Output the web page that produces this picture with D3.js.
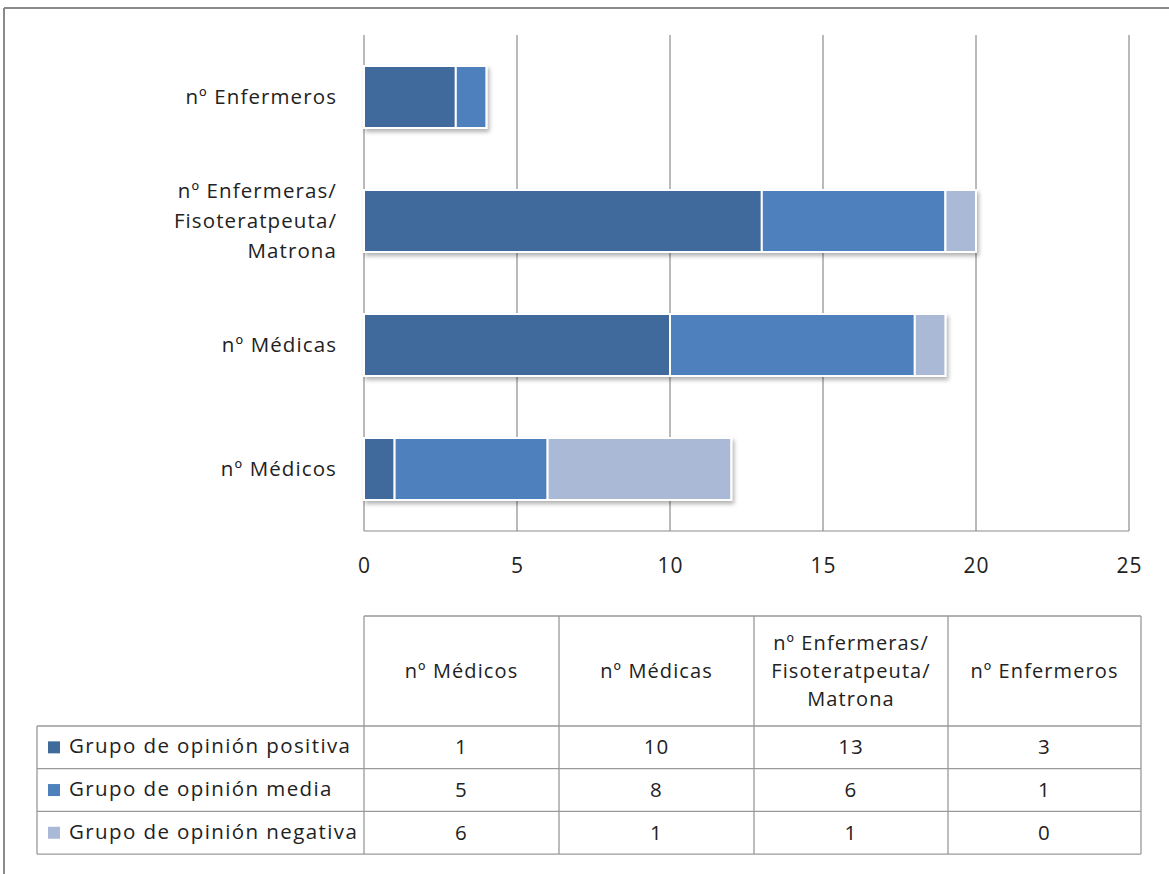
<!DOCTYPE html>
<html><head><meta charset="utf-8">
<script src="https://cdn.jsdelivr.net/npm/d3@7"></script>
<style>body{margin:0;background:#fff;} text{font-family:"Open Sans","Noto Sans",sans-serif;fill:#222;letter-spacing:1.1px;}</style>
</head><body>
<svg id="c" width="1169" height="874"></svg>
<script>
const categories = ["nº Médicos","nº Médicas","nº Enfermeras/ Fisoteratpeuta/ Matrona","nº Enfermeros"];
const catLines = [["nº Médicos"],["nº Médicas"],["nº Enfermeras/","Fisoteratpeuta/","Matrona"],["nº Enfermeros"]];
const seriesNames = ["Grupo de opinión positiva","Grupo de opinión media","Grupo de opinión negativa"];
const positiva = [1,10,13,3];
const media = [5,8,6,1];
const negativa = [6,1,1,0];
const colors = ["#3F6A9C","#4E80BC","#AAB9D6"];
const xTicks = [0,5,10,15,20,25];

(function(){
const svg = d3.select("#c");
const defs = svg.append("defs");
const f = defs.append("filter").attr("id","sh").attr("x","-10%").attr("y","-20%").attr("width","130%").attr("height","160%");
f.append("feDropShadow").attr("dx",2).attr("dy",3).attr("stdDeviation",2).attr("flood-color","#000").attr("flood-opacity",0.3);

svg.append("line").attr("x1",4).attr("x2",1169).attr("y1",8).attr("y2",8).attr("stroke","#8a8a8a").attr("stroke-width",2);
svg.append("line").attr("x1",4).attr("x2",4).attr("y1",8).attr("y2",874).attr("stroke","#8a8a8a").attr("stroke-width",2);

const pL=364,pR=1129,pT=35,pB=531;
const x = d3.scaleLinear().domain([0,25]).range([pL,pR]);
const order = [3,2,1,0];
const y = d3.scaleBand().domain(order.map(i=>categories[i])).range([pT,pB]).paddingInner(0.5).paddingOuter(0.25);

svg.append("g").selectAll("line").data(xTicks.slice(1)).join("line")
  .attr("x1",d=>x(d)).attr("x2",d=>x(d)).attr("y1",pT).attr("y2",pB)
  .attr("stroke","#8c8c8c").attr("stroke-width",1.2);
svg.append("line").attr("x1",pL).attr("x2",pR).attr("y1",pB).attr("y2",pB).attr("stroke","#8c8c8c").attr("stroke-width",1.2);
svg.append("line").attr("x1",pL).attr("x2",pL).attr("y1",pT).attr("y2",pB).attr("stroke","#8c8c8c").attr("stroke-width",1.2);

const xAxis = svg.append("g").attr("transform",`translate(0,${pB})`).call(d3.axisBottom(x).tickValues(xTicks).tickSize(0).tickPadding(27));
xAxis.select(".domain").remove();
xAxis.selectAll("text").style("font-size","21px").style("font-family","'Open Sans','Noto Sans',sans-serif").attr("fill","#222");

const data = categories.map((c,i)=>({cat:c,positiva:positiva[i],media:media[i],negativa:negativa[i]}));
const stack = d3.stack().keys(["positiva","media","negativa"])(data);
const gb = svg.append("g").attr("filter","url(#sh)");
stack.forEach((s,si)=>{
  gb.selectAll(null).data(s.filter(d=>d[1]-d[0]>0)).join("rect")
    .attr("x",d=>x(d[0])).attr("width",d=>x(d[1])-x(d[0]))
    .attr("y",d=>y(d.data.cat)).attr("height",y.bandwidth())
    .attr("fill",colors[si]).attr("stroke","#fff").attr("stroke-width",2);
});

categories.forEach((c,i)=>{
  const lines = catLines[i];
  const cy = y(c)+y.bandwidth()/2;
  const lh = 30;
  const t = svg.append("text").attr("text-anchor","end").style("font-size","20.5px");
  lines.forEach((l,j)=>{
    t.append("tspan").attr("x",337).attr("y",cy+(j-(lines.length-1)/2)*lh+7).text(l);
  });
});

const colX = [364,559,754,948,1141];
const hdrTop=616, hdrBot=726, rowH=42.7;
const rowY = [726,726+rowH,726+2*rowH,726+3*rowH];
const tl = svg.append("g").attr("stroke","#9a9a9a").attr("stroke-width",1.3);
tl.append("line").attr("x1",colX[0]).attr("x2",colX[4]).attr("y1",hdrTop).attr("y2",hdrTop);
colX.forEach(cx=>tl.append("line").attr("x1",cx).attr("x2",cx).attr("y1",hdrTop).attr("y2",rowY[3]));
rowY.forEach(ry=>tl.append("line").attr("x1",37).attr("x2",colX[4]).attr("y1",ry).attr("y2",ry));
tl.append("line").attr("x1",37).attr("x2",37).attr("y1",rowY[0]).attr("y2",rowY[3]);

categories.forEach((c,i)=>{
  const lines = catLines[i];
  const cx = (colX[i]+colX[i+1])/2, cy=(hdrTop+hdrBot)/2;
  const t = svg.append("text").attr("text-anchor","middle").style("font-size","20px");
  lines.forEach((l,j)=>t.append("tspan").attr("x",cx).attr("y",cy+(j-(lines.length-1)/2)*28+7).text(l));
});
const seriesVals=[positiva,media,negativa];
seriesNames.forEach((s,si)=>{
  const cy=(rowY[si]+rowY[si+1])/2;
  svg.append("rect").attr("x",48).attr("y",cy-6).attr("width",12).attr("height",12).attr("fill",colors[si]);
  svg.append("text").attr("x",69).attr("y",cy+6).style("font-size","20.5px").style("letter-spacing","1.4px").text(s);
  seriesVals[si].forEach((v,ci)=>{
    svg.append("text").attr("x",(colX[ci]+colX[ci+1])/2).attr("y",cy+7).attr("text-anchor","middle").style("font-size","20.5px").text(v);
  });
});
})();
</script>
</body></html>
